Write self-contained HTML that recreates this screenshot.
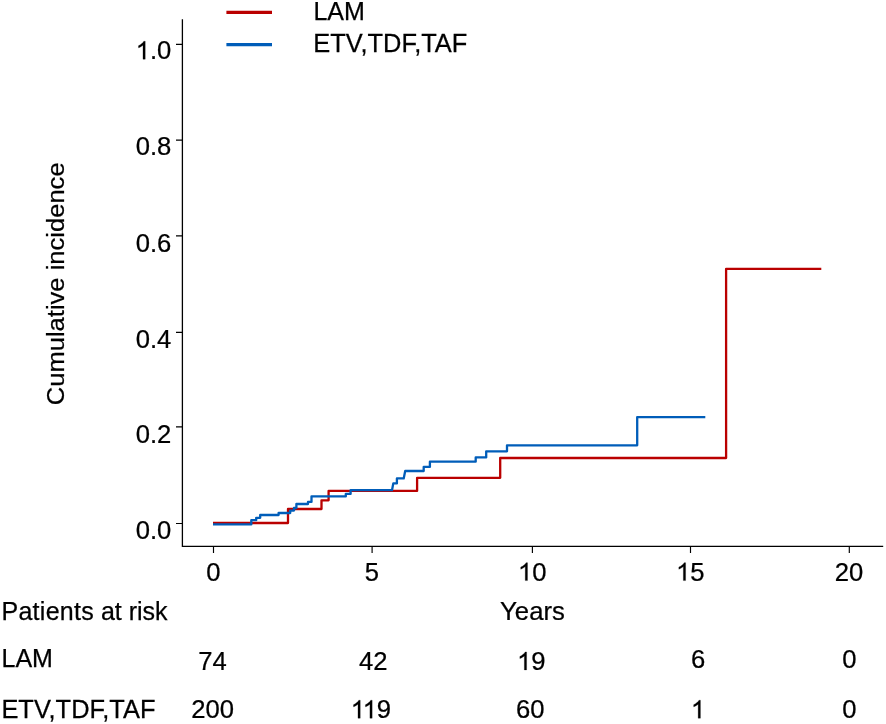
<!DOCTYPE html>
<html>
<head>
<meta charset="utf-8">
<title>Cumulative incidence</title>
<style>
html,body{margin:0;padding:0;background:#fff;}
body{width:886px;height:724px;overflow:hidden;}
svg{display:block;will-change:transform;}
text{font-family:"Liberation Sans",sans-serif;font-size:25px;fill:#000;stroke:#000;stroke-width:0.25px;}
path.g1{stroke:#000;stroke-width:20;}
</style>
</head>
<body>
<svg width="886" height="724" viewBox="0 0 886 724">
<rect x="0" y="0" width="886" height="724" fill="#ffffff"/>

<g stroke="#000" stroke-width="1.3" fill="none">
<path d="M182.4,19.3 V546.3 H883.2"/>
<path stroke-width="1.15" d="M176,44.4 H182.4 M176,140.15 H182.4 M176,235.8 H182.4 M176,332.4 H182.4 M176,426.8 H182.4 M176,523.5 H182.4"/>
<path stroke-width="1.15" d="M213.5,546.3 V553 M372.1,546.3 V553 M532.4,546.3 V553 M690.5,546.3 V553 M849.3,546.3 V553"/>
</g>
<path d="M763 0H583V1147Q518 1085 412.5 1023T223 930V1104Q374 1175 487 1276T647 1472H763Z" transform="translate(135.68,59.20) scale(0.012512,-0.012207)" fill="#000" class="g1"/>
<text transform="translate(149.93,59.20) scale(1.025,1)" font-size="25.0">.0</text>
<text transform="translate(135.68,155.10) scale(1.025,1)" font-size="25.0">0.8</text>
<text transform="translate(135.68,251.80) scale(1.025,1)" font-size="25.0">0.6</text>
<text transform="translate(135.68,347.50) scale(1.025,1)" font-size="25.0">0.4</text>
<text transform="translate(135.68,443.30) scale(1.025,1)" font-size="25.0">0.2</text>
<text transform="translate(135.68,538.60) scale(1.025,1)" font-size="25.0">0.0</text>
<text transform="translate(206.17,580.60) scale(1.025,1)" font-size="25.0">0</text>
<text transform="translate(364.77,580.60) scale(1.025,1)" font-size="25.0">5</text>
<path d="M763 0H583V1147Q518 1085 412.5 1023T223 930V1104Q374 1175 487 1276T647 1472H763Z" transform="translate(517.95,580.60) scale(0.012512,-0.012207)" fill="#000" class="g1"/>
<text transform="translate(532.20,580.60) scale(1.025,1)" font-size="25.0">0</text>
<path d="M763 0H583V1147Q518 1085 412.5 1023T223 930V1104Q374 1175 487 1276T647 1472H763Z" transform="translate(676.05,580.60) scale(0.012512,-0.012207)" fill="#000" class="g1"/>
<text transform="translate(690.30,580.60) scale(1.025,1)" font-size="25.0">5</text>
<text transform="translate(834.85,580.60) scale(1.025,1)" font-size="25.0">20</text>
<text transform="translate(500.1,620.1) scale(1.027,1.0)" text-anchor="start" >Years</text>
<text transform="translate(63.6,283.8) rotate(-90) scale(1.0225,0.985)" text-anchor="middle">Cumulative incidence</text>
<path d="M226.4,12.4 H272" stroke="#BA0000" stroke-width="3.2" fill="none"/>
<path d="M226.4,44.7 H272" stroke="#005DB9" stroke-width="3.2" fill="none"/>
<text transform="translate(313.4,20.4) scale(1.0,1.0)" text-anchor="start" >LAM</text>
<text transform="translate(313.3,52.1) scale(1.018,1.0)" text-anchor="start" >ETV,TDF,TAF</text>
<path d="M213,523 H288 V509 H321.5 V500.3 H328.6 V490.9 H417.1 V477.8 H500.2 V458 H726.1 V268.8 H821.3" stroke="#BA0000" stroke-width="2.3" fill="none" stroke-linejoin="round"/>
<path d="M213,524.4 H251.3 V520.2 H256.2 V517.8 H260.2 V515 H278.6 V513 H290.2 V510.6 H294 V508 H296.4 V504 H308 V501.9 H311.5 V496.4 H345.8 V493.9 H350.6 V490.2 H392 L393.3,483.4 H396.9 V478.4 H403.7 L405.2,471 H423.7 V466.9 H429.9 V461.7 H475.7 V457.4 H486.2 V451.3 H507 V445.3 H637.2 V417.1 H705.3" stroke="#005DB9" stroke-width="2.3" fill="none" stroke-linejoin="round"/>
<text x="1.5" y="620.1"><tspan letter-spacing="0.27">Patients</tspan> at risk</text>
<text transform="translate(1.5,667.4) scale(1.0,1.0)" text-anchor="start" >LAM</text>
<text transform="translate(1.4,718.2) scale(1.018,1.0)" text-anchor="start" >ETV,TDF,TAF</text>
<text transform="translate(198.25,670.30) scale(1.025,1)" font-size="25.0">74</text>
<text transform="translate(359.05,669.80) scale(1.025,1)" font-size="25.0">42</text>
<path d="M763 0H583V1147Q518 1085 412.5 1023T223 930V1104Q374 1175 487 1276T647 1472H763Z" transform="translate(517.05,669.90) scale(0.012512,-0.012207)" fill="#000" class="g1"/>
<text transform="translate(531.30,669.90) scale(1.025,1)" font-size="25.0">9</text>
<text transform="translate(690.97,667.90) scale(1.025,1)" font-size="25.0">6</text>
<text transform="translate(842.17,667.90) scale(1.025,1)" font-size="25.0">0</text>
<text transform="translate(191.32,718.20) scale(1.025,1)" font-size="25.0">200</text>
<path d="M763 0H583V1147Q518 1085 412.5 1023T223 930V1104Q374 1175 487 1276T647 1472H763Z" transform="translate(350.68,718.20) scale(0.012512,-0.012207)" fill="#000" class="g1"/>
<path d="M763 0H583V1147Q518 1085 412.5 1023T223 930V1104Q374 1175 487 1276T647 1472H763Z" transform="translate(362.62,718.20) scale(0.012512,-0.012207)" fill="#000" class="g1"/>
<text transform="translate(376.87,718.20) scale(1.025,1)" font-size="25.0">9</text>
<text transform="translate(516.05,718.20) scale(1.025,1)" font-size="25.0">60</text>
<path d="M763 0H583V1147Q518 1085 412.5 1023T223 930V1104Q374 1175 487 1276T647 1472H763Z" transform="translate(690.87,718.20) scale(0.012512,-0.012207)" fill="#000" class="g1"/>
<text transform="translate(842.17,718.20) scale(1.025,1)" font-size="25.0">0</text>
</svg>
</body>
</html>
